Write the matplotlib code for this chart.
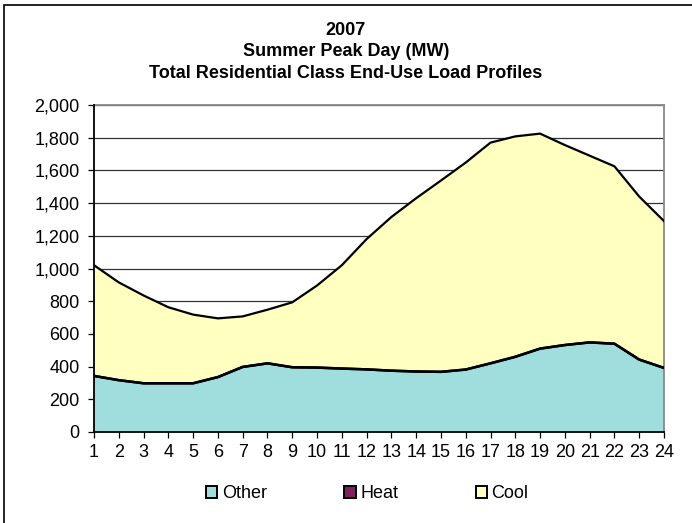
import matplotlib
matplotlib.use("Agg")
import matplotlib.pyplot as plt
from matplotlib.patches import Patch, Rectangle
from matplotlib.ticker import FuncFormatter, MultipleLocator

plt.rcParams['font.family'] = ['Liberation Sans', 'DejaVu Sans']

hours = list(range(1, 25))
other = [343, 317, 298, 298, 298, 336, 398, 420, 396, 394, 388, 383,
         375, 370, 368, 382, 420, 460, 510, 532, 548, 540, 443, 392]
heat = [0] * 24
total = [1020, 915, 835, 763, 718, 695, 707, 748, 793, 896, 1020, 1180,
         1315, 1430, 1538, 1648, 1770, 1808, 1825, 1755, 1690, 1625, 1440, 1290]
cool = [t - o - h for t, o, h in zip(total, other, heat)]

title = "2007\nSummer Peak Day (MW)\nTotal Residential Class End-Use Load Profiles"
series_names = ["Other", "Heat", "Cool"]
colors = ["#A0DEDE", "#802060", "#FFFFC0"]

fig = plt.figure(figsize=(6.92, 5.23), dpi=100)
ax = fig.add_axes([94/692, 1-432/523, 570/692, 327/523])

ax.stackplot(hours, other, heat, cool, colors=colors, edgecolor='none', zorder=2)
lvl1 = list(other)
lvl2 = [o + h for o, h in zip(other, heat)]
lvl3 = [o + h + c for o, h, c in zip(other, heat, cool)]
ax.plot(hours, lvl1, color='black', lw=1.8, zorder=3)
ax.plot(hours, lvl2, color='black', lw=1.8, zorder=3)
ax.plot(hours, lvl3, color='black', lw=1.6, zorder=3)

ax.set_xlim(1, 24)
ax.set_ylim(0, 2000)
ax.yaxis.set_major_locator(MultipleLocator(200))
ax.yaxis.set_major_formatter(FuncFormatter(lambda v, p: f"{int(v):,}"))
ax.set_xticks(hours)
ax.set_xticklabels([str(h) for h in hours])
ax.grid(axis='y', color='#333333', lw=0.9, zorder=1)
ax.set_axisbelow(True)
ax.tick_params(axis='both', direction='out', length=4.5, width=0.9, labelsize=13, color='black')
ax.tick_params(axis='y', pad=6)
ax.tick_params(axis='x', pad=4)
for s in ['left', 'bottom']:
    ax.spines[s].set_color('black')
    ax.spines[s].set_linewidth(1.3)
for s in ['top', 'right']:
    ax.spines[s].set_color('#888888')
    ax.spines[s].set_linewidth(1.3)
ax.spines['left'].set_zorder(4)
ax.spines['bottom'].set_zorder(4)

fig.text(0.5, 1-52/523, title, ha='center', va='center', fontsize=13,
         fontweight='bold', linespacing=1.38)

handles = [Patch(facecolor=c, edgecolor='black', lw=1.4) for c in colors]
fig.legend(handles, series_names, loc='center left', bbox_to_anchor=(206/692, 1-494/523),
           ncol=3, frameon=False, fontsize=13, handlelength=0.62, handleheight=0.62,
           handletextpad=0.25, columnspacing=4.3, borderpad=0, borderaxespad=0)

fig.patches.append(Rectangle((4/692, -0.1), 1.2, 1 - 5/523 + 0.1, transform=fig.transFigure,
                             fill=False, edgecolor='black', lw=1.2))

fig.savefig("out.png", dpi=100)
